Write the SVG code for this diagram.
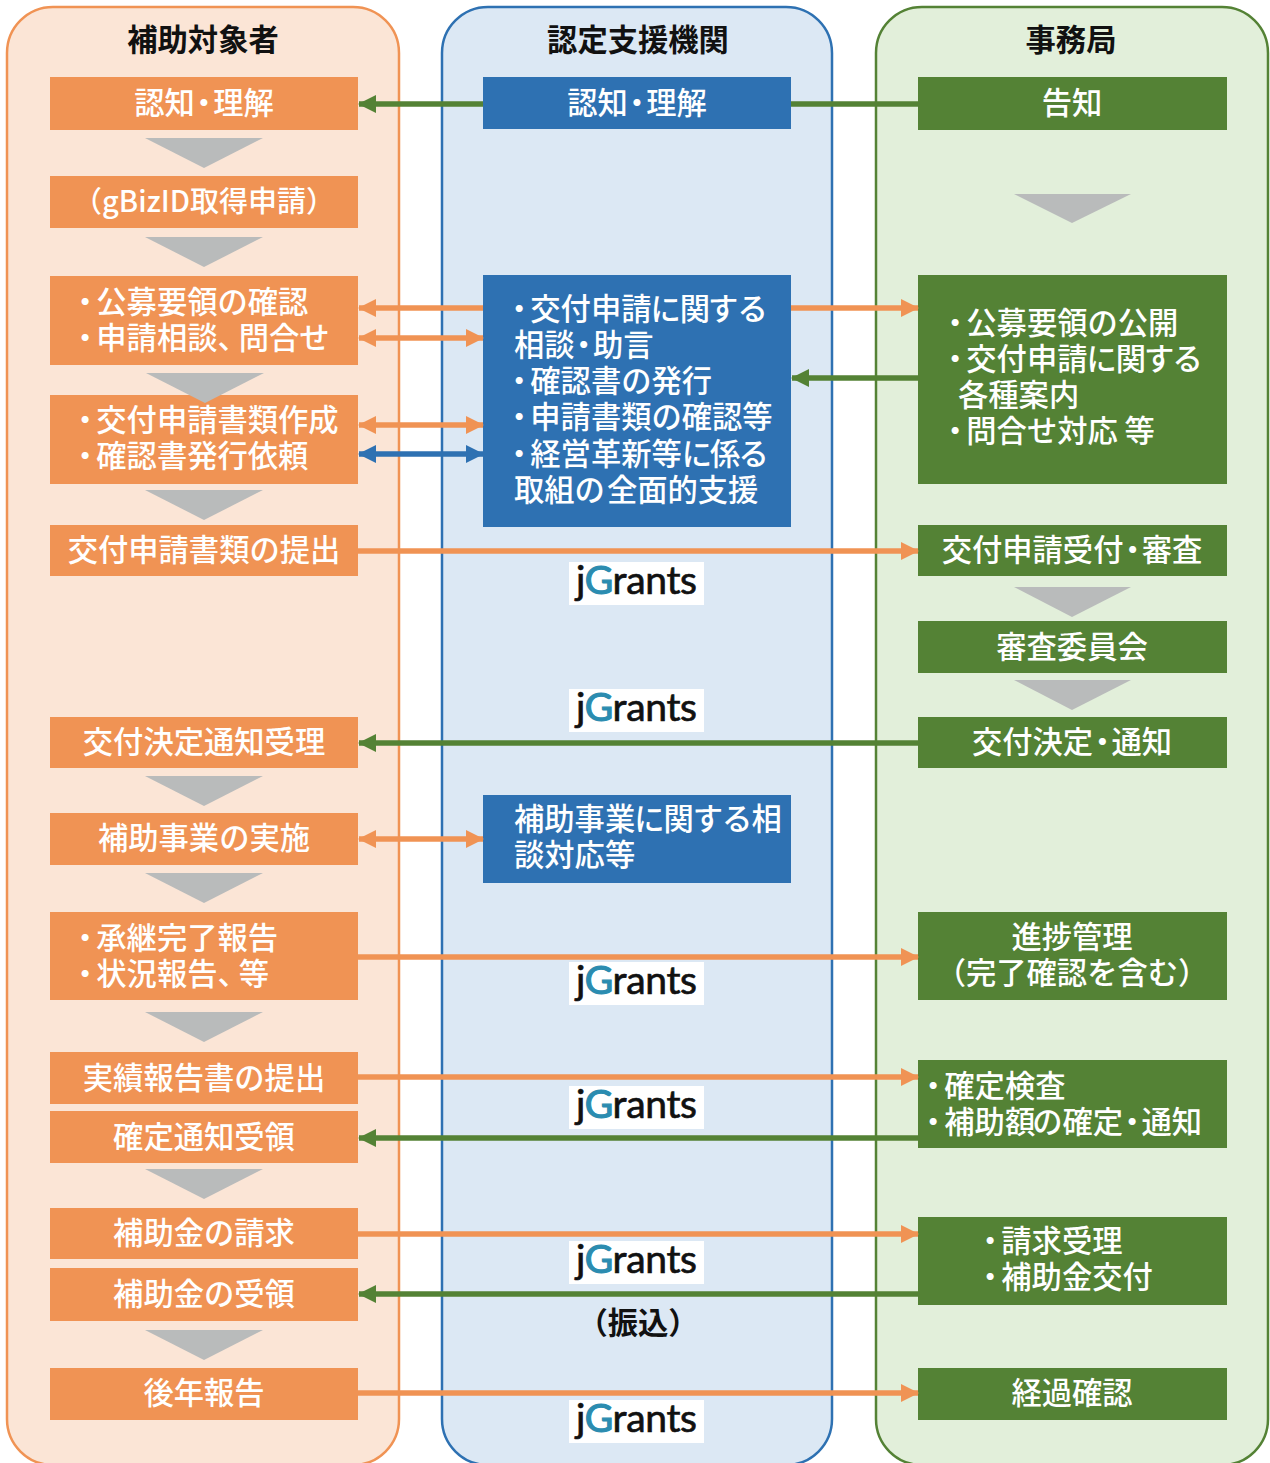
<svg xmlns="http://www.w3.org/2000/svg" width="1270" height="1463" viewBox="0 0 1270 1463">
<style>
text{font-family:"Noto Sans CJK JP","Noto Sans",sans-serif;font-size:30.3px;font-weight:500;fill:#fff}
.c{text-anchor:middle}
.h{fill:#111;font-weight:700}
.o{fill:#f09354}
.b{fill:#2e71b2}
.g{fill:#548235}
.t{fill:#b9bbbb}
.p{stroke-width:2.5}
.l{fill:none;stroke-width:5.5}
.lo{stroke:#f09354}.lg{stroke:#548235}.lb{stroke:#2e71b2}
.jb{fill:#fff}
.j{font-family:"Lato","Liberation Sans",sans-serif;font-size:39px;font-weight:400;fill:#111;stroke:#111;stroke-width:.7}
.j tspan{fill:#2b8cb0;stroke:#2b8cb0;stroke-width:1.2}
</style>
<defs>
<marker id="ao" markerUnits="userSpaceOnUse" viewBox="0 0 18 18" markerWidth="18" markerHeight="18" refX="17" refY="9" orient="auto-start-reverse"><path d="M0 0L18 9L0 18z" fill="#f09354"/></marker>
<marker id="ag" markerUnits="userSpaceOnUse" viewBox="0 0 18 18" markerWidth="18" markerHeight="18" refX="17" refY="9" orient="auto-start-reverse"><path d="M0 0L18 9L0 18z" fill="#548235"/></marker>
<marker id="ab" markerUnits="userSpaceOnUse" viewBox="0 0 18 18" markerWidth="18" markerHeight="18" refX="17" refY="9" orient="auto-start-reverse"><path d="M0 0L18 9L0 18z" fill="#2e71b2"/></marker>
</defs>
<rect width="1270" height="1463" fill="#fff"/>
<g id="panel-left"><rect class="p" x="7" y="7" width="392" height="1458" rx="46" fill="#fbe5d6" stroke="#f09354"/><text class="c h" x="203" y="51">補助対象者</text></g>
<g id="panel-mid"><rect class="p" x="442" y="7" width="390" height="1458" rx="46" fill="#dce8f4" stroke="#2e71b2"/><text class="c h" x="638" y="51">認定支援機関</text></g>
<g id="panel-right"><rect class="p" x="876" y="7" width="392" height="1458" rx="46" fill="#e2efda" stroke="#548235"/><text class="c h" x="1071" y="51">事務局</text></g>
<g id="n-a1"><rect class="o" x="50" y="77" width="308" height="53"/><text class="c" x="204" y="114" dx="0 0 -6 -6">認知・理解</text></g>
<g id="n-a2"><rect class="o" x="50" y="176" width="308" height="52"/><text class="c" x="204" y="212" style="font-size:29px">（gBizID取得申請）</text></g>
<g id="n-a3"><rect class="o" x="50" y="276" width="308" height="89"/><text x="70" y="313" dx="0 -4">・公募要領の確認</text><text x="70" y="349" dx="0 -4 0 0 0 0 -9">・申請相談、問合せ</text></g>
<g id="n-a4"><rect class="o" x="50" y="395" width="308" height="89"/><text x="70" y="431" dx="0 -4">・交付申請書類作成</text><text x="70" y="467" dx="0 -4">・確認書発行依頼</text></g>
<g id="n-a5"><rect class="o" x="50" y="525" width="308" height="51"/><text class="c" x="204" y="561">交付申請書類の提出</text></g>
<g id="n-a6"><rect class="o" x="50" y="717" width="308" height="51"/><text class="c" x="204" y="753">交付決定通知受理</text></g>
<g id="n-a7"><rect class="o" x="50" y="813" width="308" height="52"/><text class="c" x="204" y="849">補助事業の実施</text></g>
<g id="n-a8"><rect class="o" x="50" y="912" width="308" height="88"/><text x="70" y="949" dx="0 -4">・承継完了報告</text><text x="70" y="985" dx="0 -4 0 0 0 0 -9">・状況報告、等</text></g>
<g id="n-a9"><rect class="o" x="50" y="1052" width="308" height="52"/><text class="c" x="204" y="1089">実績報告書の提出</text></g>
<g id="n-a10"><rect class="o" x="50" y="1111" width="308" height="52"/><text class="c" x="204" y="1148">確定通知受領</text></g>
<g id="n-a11"><rect class="o" x="50" y="1208" width="308" height="51"/><text class="c" x="204" y="1244">補助金の請求</text></g>
<g id="n-a12"><rect class="o" x="50" y="1268" width="308" height="53"/><text class="c" x="204" y="1305">補助金の受領</text></g>
<g id="n-a13"><rect class="o" x="50" y="1368" width="308" height="52"/><text class="c" x="204" y="1404">後年報告</text></g>
<g id="n-b1"><rect class="b" x="483" y="77" width="308" height="52"/><text class="c" x="637" y="114" dx="0 0 -6 -6">認知・理解</text></g>
<g id="n-b2"><rect class="b" x="483" y="275" width="308" height="252"/>
<text x="504" y="320" dx="0 -4 0 0 0 -1 -1 -2 -1">・交付申請に関する</text><text x="514" y="356" dx="0 0 -6 -6">相談・助言</text><text x="504" y="392" dx="0 -4">・確認書の発行</text><text x="504" y="428" dx="0 -4">・申請書類の確認等</text><text x="504" y="465" dx="0 -4 0 0 0 0 0 -2 -2">・経営革新等に係る</text><text x="514" y="501" dx="0 0 0 2">取組の全面的支援</text></g>
<g id="n-b3"><rect class="b" x="483" y="795" width="308" height="88"/><text x="514" y="830" dx="0 0 0 0 -1 -1 -1 -1 -1">補助事業に関する相</text><text x="514" y="866">談対応等</text></g>
<g id="n-c1"><rect class="g" x="918" y="77" width="309" height="53"/><text class="c" x="1072" y="114">告知</text></g>
<g id="n-c2"><rect class="g" x="918" y="275" width="309" height="209"/><text x="940" y="334" dx="0 -4">・公募要領の公開</text><text x="940" y="370" dx="0 -4 0 0 0 -1 -1 -2 -2">・交付申請に関する</text><text x="958" y="406">各種案内</text><text x="940" y="442" dx="0 -4">・問合せ対応 等</text></g>
<g id="n-c3"><rect class="g" x="918" y="525" width="309" height="51"/><text class="c" x="1072" y="561" dx="0 0 0 0 0 0 -6 -6">交付申請受付・審査</text></g>
<g id="n-c4"><rect class="g" x="918" y="621" width="309" height="52"/><text class="c" x="1072" y="658">審査委員会</text></g>
<g id="n-c5"><rect class="g" x="918" y="717" width="309" height="51"/><text class="c" x="1072" y="753" dx="0 0 0 0 -6 -6">交付決定・通知</text></g>
<g id="n-c6"><rect class="g" x="918" y="912" width="309" height="88"/><text class="c" x="1072" y="948">進捗管理</text><text class="c" x="1072" y="984">（完了確認を含む）</text></g>
<g id="n-c7"><rect class="g" x="918" y="1060" width="309" height="88"/><text x="918" y="1097" dx="0 -4">・確定検査</text><text x="918" y="1133" dx="0 -4 0 0 -3 0 0 -6 -6">・補助額の確定・通知</text></g>
<g id="n-c8"><rect class="g" x="918" y="1217" width="309" height="88"/><text x="975" y="1252" dx="0 -4">・請求受理</text><text x="975" y="1288" dx="0 -4">・補助金交付</text></g>
<g id="n-c9"><rect class="g" x="918" y="1368" width="309" height="52"/><text class="c" x="1072" y="1404">経過確認</text></g>
<g id="flow-arrows">
<path class="t" d="M145 138H263L204 168z"/><path class="t" d="M145 237H263L204 267z"/><path class="t" d="M146 373H264L205 403z"/><path class="t" d="M145 490H263L204 520z"/><path class="t" d="M145 776H263L204 806z"/><path class="t" d="M145 873H263L204 903z"/><path class="t" d="M145 1012H263L204 1042z"/><path class="t" d="M145 1169H263L204 1199z"/><path class="t" d="M145 1330H263L204 1360z"/>
<path class="t" d="M1014 194H1131L1072 223z"/><path class="t" d="M1014 587H1131L1072 617z"/><path class="t" d="M1014 680H1131L1072 710z"/>
</g>
<g id="logos">
<rect class="jb" x="569" y="562" width="135" height="43"/><text class="j" x="576" y="594" textLength="121">j<tspan>G</tspan>rants</text>
<rect class="jb" x="569" y="689" width="135" height="43"/><text class="j" x="576" y="721" textLength="121">j<tspan>G</tspan>rants</text>
<rect class="jb" x="569" y="962" width="135" height="43"/><text class="j" x="576" y="994" textLength="121">j<tspan>G</tspan>rants</text>
<rect class="jb" x="569" y="1086" width="135" height="43"/><text class="j" x="576" y="1118" textLength="121">j<tspan>G</tspan>rants</text>
<rect class="jb" x="569" y="1241" width="135" height="43"/><text class="j" x="576" y="1273" textLength="121">j<tspan>G</tspan>rants</text>
<rect class="jb" x="569" y="1400" width="135" height="43"/><text class="j" x="576" y="1432" textLength="121">j<tspan>G</tspan>rants</text>
</g>
<g id="label-furikomi"><text class="c h" x="638" y="1334">（振込）</text></g>
<g id="connectors">
<path class="l lg" d="M483 104H359" marker-end="url(#ag)"/>
<path class="l lg" d="M791 104H918"/>
<path class="l lo" d="M483 308H359" marker-end="url(#ao)"/>
<path class="l lo" d="M791 308H918" marker-end="url(#ao)"/>
<path class="l lo" d="M359 338H483" marker-start="url(#ao)" marker-end="url(#ao)"/>
<path class="l lg" d="M918 378H792" marker-end="url(#ag)"/>
<path class="l lo" d="M359 425H483" marker-start="url(#ao)" marker-end="url(#ao)"/>
<path class="l lb" d="M359 454H483" marker-start="url(#ab)" marker-end="url(#ab)"/>
<path class="l lo" d="M358 551H918" marker-end="url(#ao)"/>
<path class="l lg" d="M918 743H359" marker-end="url(#ag)"/>
<path class="l lo" d="M359 839H483" marker-start="url(#ao)" marker-end="url(#ao)"/>
<path class="l lo" d="M358 957H918" marker-end="url(#ao)"/>
<path class="l lo" d="M358 1077H918" marker-end="url(#ao)"/>
<path class="l lg" d="M918 1138H359" marker-end="url(#ag)"/>
<path class="l lo" d="M358 1234H918" marker-end="url(#ao)"/>
<path class="l lg" d="M918 1294H359" marker-end="url(#ag)"/>
<path class="l lo" d="M358 1393H918" marker-end="url(#ao)"/>
</g>
</svg>
